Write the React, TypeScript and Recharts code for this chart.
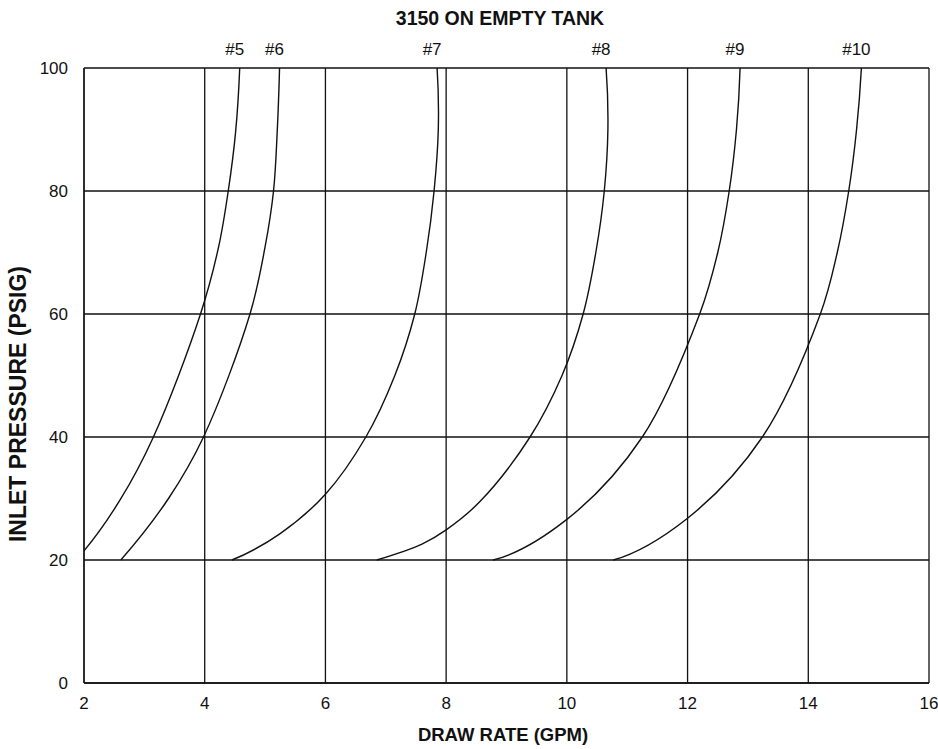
import React from "react";
import { LineChart, Line, XAxis, YAxis, CartesianGrid, Customized } from "recharts";

const xTicks = [2, 4, 6, 8, 10, 12, 14, 16];
const yTicks = [0, 20, 40, 60, 80, 100];
const title = "3150 ON EMPTY TANK";
const xTitle = "DRAW RATE (GPM)";
const yTitle = "INLET PRESSURE (PSIG)";

const curveNames = ["#5", "#6", "#7", "#8", "#9", "#10"];

const c5 = [
  { x: 2.0, y: 21.5 }, { x: 2.6, y: 29.8 }, { x: 3.15, y: 40 }, { x: 3.93, y: 60 },
  { x: 4.23, y: 70.9 }, { x: 4.39, y: 80 }, { x: 4.51, y: 89.4 }, { x: 4.58, y: 100 },
];
const c6 = [
  { x: 2.61, y: 20 }, { x: 3.4, y: 30 }, { x: 3.98, y: 40 }, { x: 4.75, y: 60 },
  { x: 5.0, y: 70.9 }, { x: 5.14, y: 80 }, { x: 5.2, y: 89.4 }, { x: 5.24, y: 100 },
];
const c7 = [
  { x: 4.45, y: 20 }, { x: 5.25, y: 24.3 }, { x: 6.0, y: 30.7 }, { x: 6.67, y: 40 }, { x: 7.15, y: 50 },
  { x: 7.48, y: 60 }, { x: 7.67, y: 70 }, { x: 7.8, y: 80 }, { x: 7.87, y: 90 }, { x: 7.85, y: 100 },
];
const c8 = [
  { x: 6.85, y: 20 }, { x: 7.6, y: 22.6 }, { x: 8.0, y: 24.9 }, { x: 8.56, y: 29.5 }, { x: 9.39, y: 40 },
  { x: 9.92, y: 50 }, { x: 10.27, y: 60 }, { x: 10.48, y: 70 }, { x: 10.62, y: 80 }, { x: 10.68, y: 90 },
  { x: 10.65, y: 100 },
];
const c9 = [
  { x: 8.78, y: 20 }, { x: 10.0, y: 26.6 }, { x: 11.25, y: 40 },
  { x: 12.2, y: 60 }, { x: 12.5, y: 70 }, { x: 12.69, y: 80 }, { x: 12.81, y: 90 }, { x: 12.87, y: 100 },
];
const c10 = [
  { x: 10.77, y: 20 }, { x: 12.0, y: 26.8 }, { x: 13.24, y: 40 },
  { x: 14.2, y: 60 }, { x: 14.48, y: 70 }, { x: 14.67, y: 80 }, { x: 14.8, y: 90 }, { x: 14.88, y: 100 },
];

const curves = [c5, c6, c7, c8, c9, c10];

const FONT = "'Liberation Sans', Arial, Helvetica, sans-serif";

// Centripetal Catmull-Rom curve factory (d3-shape compatible interface),
// with quadratically extrapolated phantom end points.
const catmullRom = (context: any) => {
  let xs: number[] = [];
  let ys: number[] = [];
  return {
    areaStart() {},
    areaEnd() {},
    lineStart() {
      xs = [];
      ys = [];
    },
    point(x: number, y: number) {
      xs.push(+x);
      ys.push(+y);
    },
    lineEnd() {
      const n = xs.length;
      if (!n) return;
      context.moveTo(xs[0], ys[0]);
      if (n === 1) return;
      if (n === 2) {
        context.lineTo(xs[1], ys[1]);
        return;
      }
      const px = [3 * xs[0] - 3 * xs[1] + xs[2], ...xs, 3 * xs[n - 1] - 3 * xs[n - 2] + xs[n - 3]];
      const py = [3 * ys[0] - 3 * ys[1] + ys[2], ...ys, 3 * ys[n - 1] - 3 * ys[n - 2] + ys[n - 3]];
      for (let k = 1; k < n; k++) {
        const x0 = px[k - 1], y0 = py[k - 1], x1 = px[k], y1 = py[k];
        const x2 = px[k + 1], y2 = py[k + 1], x3 = px[k + 2], y3 = py[k + 2];
        const d01 = Math.hypot(x1 - x0, y1 - y0);
        const d12 = Math.hypot(x2 - x1, y2 - y1);
        const d23 = Math.hypot(x3 - x2, y3 - y2);
        const l01 = Math.sqrt(d01), l12 = Math.sqrt(d12), l23 = Math.sqrt(d23);
        let c1x = x1, c1y = y1, c2x = x2, c2y = y2;
        if (l01 > 1e-9) {
          const a = 2 * d01 + 3 * l01 * l12 + d12;
          const m = 3 * l01 * (l01 + l12);
          c1x = (x1 * a - x0 * d12 + x2 * d01) / m;
          c1y = (y1 * a - y0 * d12 + y2 * d01) / m;
        }
        if (l23 > 1e-9) {
          const b = 2 * d23 + 3 * l23 * l12 + d12;
          const m = 3 * l23 * (l23 + l12);
          c2x = (x2 * b + x1 * d23 - x3 * d12) / m;
          c2y = (y2 * b + y1 * d23 - y3 * d12) / m;
        }
        context.bezierCurveTo(c1x, c1y, c2x, c2y, x2, y2);
      }
    },
  };
};

const makeTopLabel = (name: string, lastIndex: number) => (props: any) => {
  const { x, y, index } = props;
  if (index !== lastIndex) return null;
  return (
    <text x={x - 5} y={y - 13} textAnchor="middle" fontFamily={FONT} fontSize={17} fill="#111">
      {name}
    </text>
  );
};

const Titles = () => (
  <g fontFamily={FONT} fill="#111" fontWeight="bold">
    <text x={500} y={25} textAnchor="middle" fontSize={19.5}>{title}</text>
    <text x={503} y={741} textAnchor="middle" fontSize={18.5}>{xTitle}</text>
    <text x={26} y={404} textAnchor="middle" fontSize={23} transform="rotate(-90 26 404)">{yTitle}</text>
  </g>
);

export default function App() {
  return (
    <div style={{ position: "absolute", left: 0, top: 0, background: "#fff" }}>
      <LineChart width={938} height={749} margin={{ top: 68, right: 9, bottom: 26, left: 24 }}>
        <CartesianGrid stroke="#111" strokeWidth={1.3} />
        <XAxis
          type="number"
          dataKey="x"
          domain={[2, 16]}
          ticks={xTicks}
          allowDataOverflow
          height={40}
          tickLine={false}
          tickSize={6}
          tickMargin={8}
          axisLine={{ stroke: "#111", strokeWidth: 1.3 }}
          tick={{ fontFamily: FONT, fontSize: 17, fill: "#111" }}
        />
        <YAxis
          type="number"
          dataKey="y"
          domain={[0, 100]}
          ticks={yTicks}
          allowDataOverflow
          width={60}
          tickLine={false}
          tickSize={6}
          tickMargin={10}
          axisLine={{ stroke: "#111", strokeWidth: 1.3 }}
          tick={{ fontFamily: FONT, fontSize: 17, fill: "#111" }}
        />
        {curves.map((d, i) => (
          <Line
            key={curveNames[i]}
            data={d}
            dataKey="y"
            type={catmullRom as any}
            stroke="#111"
            strokeWidth={1.4}
            dot={false}
            activeDot={false}
            isAnimationActive={false}
            label={makeTopLabel(curveNames[i], d.length - 1)}
          />
        ))}
        <Customized component={Titles} />
      </LineChart>
    </div>
  );
}
